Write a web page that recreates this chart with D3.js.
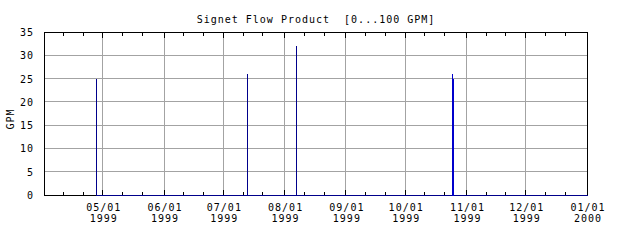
<!DOCTYPE html>
<html><head><meta charset="utf-8">
<script src="https://cdn.jsdelivr.net/npm/d3@7"></script>
<style>
body{margin:0;background:#fff;}
svg text{font-family:"DejaVu Sans Mono",monospace;font-size:10px;letter-spacing:1px;fill:#000;white-space:pre;}
</style></head>
<body><svg id="c" width="640" height="240"></svg>
<script>
const title = "Signet Flow Product  [0...100 GPM]";
const yLabel = "GPM";
const yTicks = [0,5,10,15,20,25,30,35];
const monthTicks = ["1999-05-01","1999-06-01","1999-07-01","1999-08-01","1999-09-01","1999-10-01","1999-11-01","1999-12-01","2000-01-01"];
const monthLabels = [["05/01","1999"],["06/01","1999"],["07/01","1999"],["08/01","1999"],["09/01","1999"],["10/01","1999"],["11/01","1999"],["12/01","1999"],["01/01","2000"]];
const domainDates = ["1999-04-01T06:00","2000-01-01T00:00"];
// flow series (spikes)
const flowDates = ["1999-04-28T00:00","1999-04-28T00:00","1999-04-28T00:00",
  "1999-07-13T00:00","1999-07-13T00:00","1999-07-13T00:00",
  "1999-08-07T06:00","1999-08-07T06:00","1999-08-07T06:00",
  "1999-10-25T03:00","1999-10-25T03:00","1999-10-25T03:00",
  "1999-10-25T15:00","1999-10-25T15:00","1999-10-25T15:00",
  "2000-01-01T00:00"];
const flowValues = [0,25,0, 0,26,0, 0,32,0, 0,26,0, 0,25,0, 0];
const octDates = ["1999-10-25T03:00","1999-10-25T03:00","1999-10-25T03:00","1999-10-25T15:00","1999-10-25T15:00"];
const octValues = [0,26,0,0,25];

const p = d3.timeParse("%Y-%m-%dT%H:%M");
const pd = d3.timeParse("%Y-%m-%d");
const svg = d3.select("#c");
const L=44, R=587, T=32, B=195;
const x = d3.scaleTime().domain(domainDates.map(p)).range([L, R]);
const y = d3.scaleLinear().domain([0,35]).range([B, T]);
const px = v => Math.floor(v)+0.5;

// grid
svg.append("g").selectAll("line").data(yTicks.slice(1,-1)).join("line")
  .attr("x1",L).attr("x2",R).attr("y1",d=>px(y(d))).attr("y2",d=>px(y(d)))
  .attr("stroke","#a3a3a3").attr("shape-rendering","crispEdges");
svg.append("g").selectAll("line").data(monthTicks.slice(0,-1)).join("line")
  .attr("x1",d=>px(x(pd(d)))).attr("x2",d=>px(x(pd(d)))).attr("y1",T).attr("y2",B)
  .attr("stroke","#a3a3a3").attr("shape-rendering","crispEdges");

// frame
svg.append("rect").attr("x",L+0.5).attr("y",T+0.5).attr("width",R-L).attr("height",B-T)
  .attr("fill","none").attr("stroke","#000").attr("shape-rendering","crispEdges");

// ticks
const minor = d3.timeDays(p(domainDates[0]), p(domainDates[1])).filter(d=>d.getDate()===11||d.getDate()===21);
const tk = svg.append("g").attr("stroke","#000").attr("shape-rendering","crispEdges");
monthTicks.forEach(m=>{const xx=px(x(pd(m)));
  tk.append("line").attr("x1",xx).attr("x2",xx).attr("y1",B+0.5).attr("y2",B-5);
  tk.append("line").attr("x1",xx).attr("x2",xx).attr("y1",T+0.5).attr("y2",T+6);});
minor.forEach(d=>{const xx=px(x(d));
  tk.append("line").attr("x1",xx).attr("x2",xx).attr("y1",B+0.5).attr("y2",B-3);
  tk.append("line").attr("x1",xx).attr("x2",xx).attr("y1",T+0.5).attr("y2",T+4);});

// labels
svg.append("g").selectAll("text").data(yTicks).join("text")
  .attr("x",34).attr("y",d=>y(d)+4).attr("text-anchor","end").text(d=>d);
const xl = svg.append("g");
monthTicks.forEach((m,i)=>{const xx=x(pd(m))+1;
  xl.append("text").attr("x",xx).attr("y",211).attr("text-anchor","middle").text(monthLabels[i][0]);
  xl.append("text").attr("x",xx).attr("y",222).attr("text-anchor","middle").text(monthLabels[i][1]);});
svg.append("text").attr("x",316).attr("y",23).attr("text-anchor","middle").text(title);
svg.append("text").attr("transform","translate(14,119) rotate(-90)").attr("text-anchor","middle").text(yLabel);

// series
const data = flowDates.map((d,i)=>({date:p(d),v:flowValues[i]}));
const line = d3.line().x(d=>px(x(d.date))).y(d=>px(y(d.v)));
svg.append("path").datum(data).attr("d",line).attr("fill","none")
  .attr("stroke","#00008b").attr("stroke-width",1).attr("shape-rendering","crispEdges");
const od = octDates.map((d,i)=>({date:p(d),v:octValues[i]}));
svg.append("path").datum(od).attr("d",line).attr("fill","none")
  .attr("stroke","#0000cc").attr("stroke-width",1).attr("shape-rendering","crispEdges");
</script></body></html>
